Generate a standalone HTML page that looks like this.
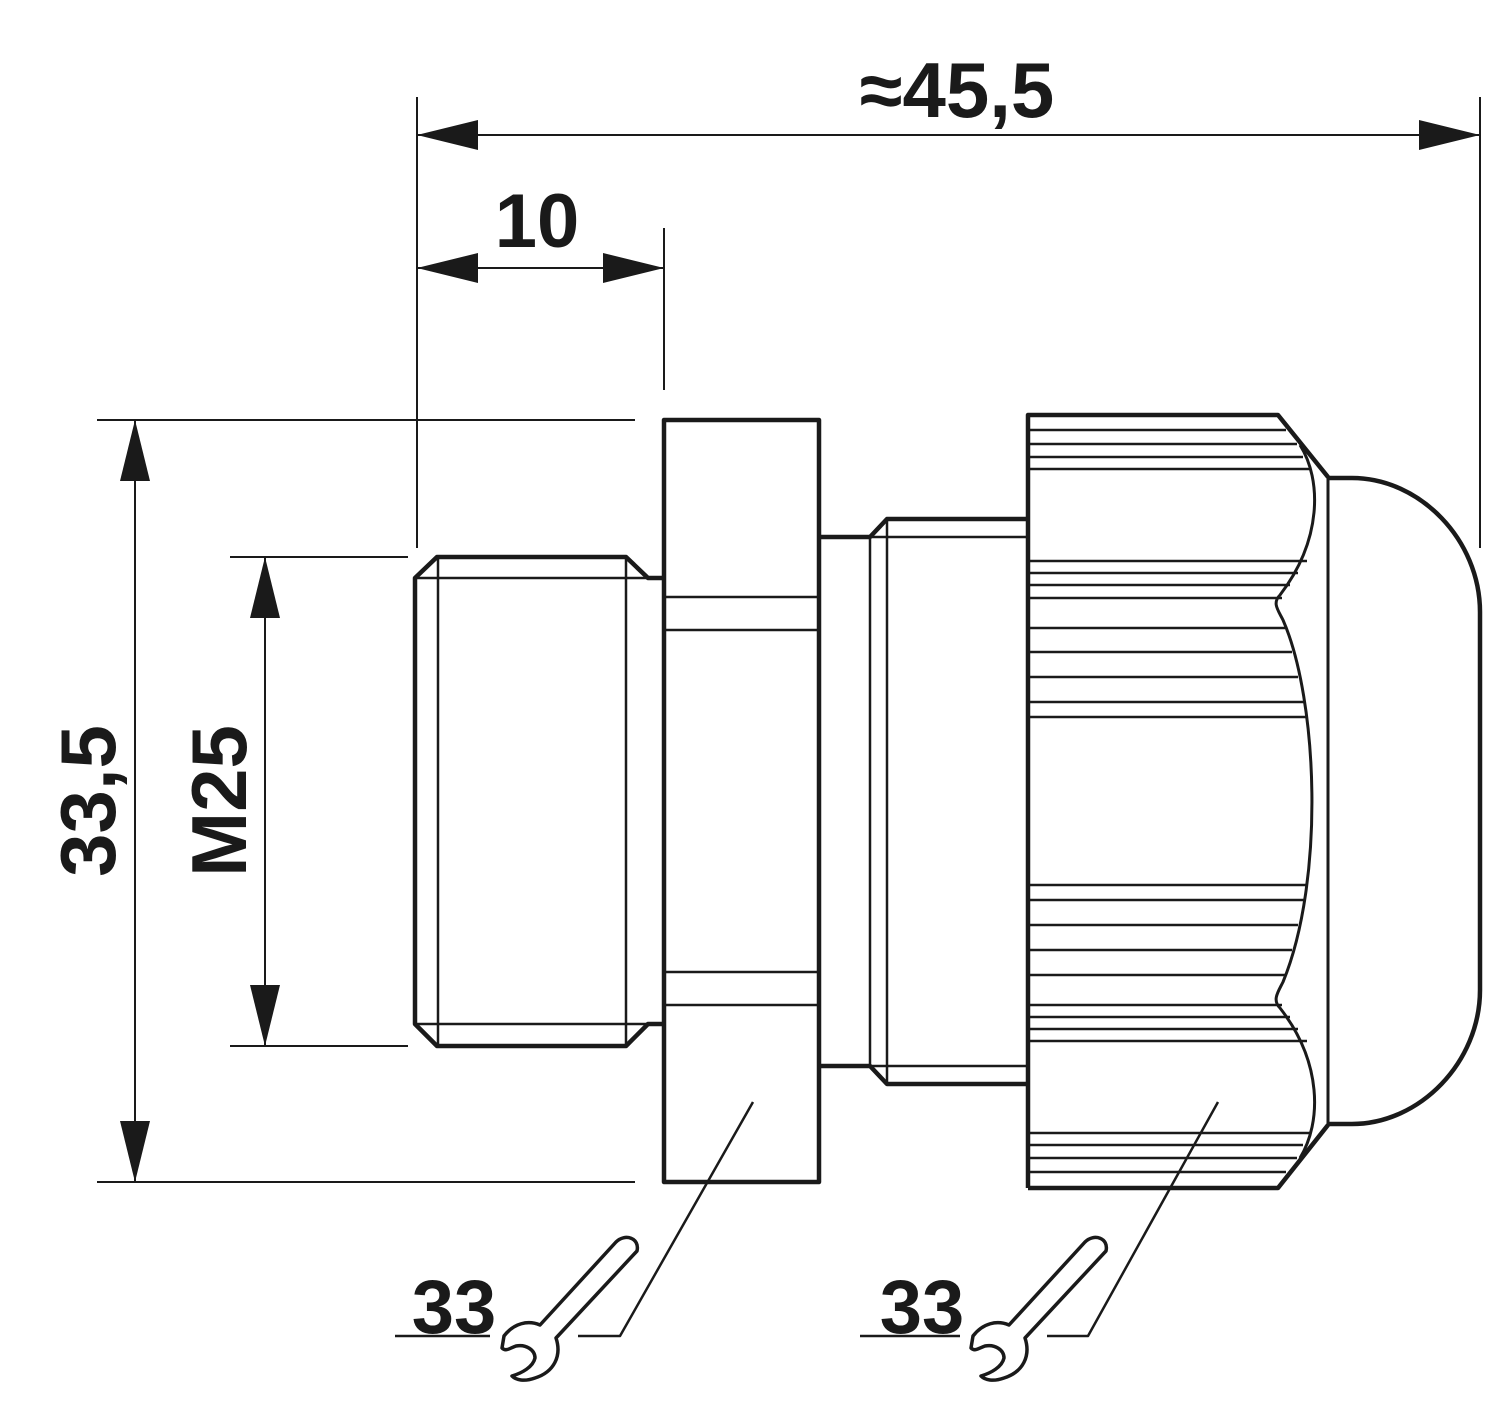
<!DOCTYPE html>
<html><head><style>body{margin:0;background:#fff}svg{display:block}text{font-family:"Liberation Sans",sans-serif;font-weight:bold;fill:#1a1a1a}</style></head>
<body>
<svg width="1500" height="1403" viewBox="0 0 1500 1403" xmlns="http://www.w3.org/2000/svg">
<defs>
<g id="wr">
<path d="M0,0 C10,-13 24,-16 36,-11 L112,-94 C121,-103 136,-98 133,-85 L52,2 C58,20 50,36 31,42 C20,46 12,44 8,40 C18,37 29,31 31,22 C31,14 22,8 12,10 C6,12 2,16 -2,12 Z" fill="none" stroke="#1a1a1a" stroke-width="3.5" stroke-linejoin="round"/>
</g>
</defs>
<g stroke="#1a1a1a" fill="none" stroke-width="2">
<line x1="417" y1="97" x2="417" y2="548"/>
<line x1="1480" y1="97" x2="1480" y2="548"/>
<line x1="664" y1="228" x2="664" y2="390"/>
<line x1="97" y1="420" x2="635" y2="420"/>
<line x1="97" y1="1182" x2="635" y2="1182"/>
<line x1="230" y1="557" x2="408" y2="557"/>
<line x1="230" y1="1046" x2="408" y2="1046"/>
<line x1="417" y1="135" x2="1480" y2="135"/>
<line x1="417" y1="268" x2="664" y2="268"/>
<line x1="135" y1="420" x2="135" y2="1182"/>
<line x1="265" y1="557" x2="265" y2="1046"/>
</g>
<g fill="#1a1a1a">
<polygon points="417,135 478,120 478,150"/>
<polygon points="1480,135 1419,120 1419,150"/>
<polygon points="417,268 478,253 478,283"/>
<polygon points="664,268 603,253 603,283"/>
<polygon points="135,420 120,481 150,481"/>
<polygon points="135,1182 120,1121 150,1121"/>
<polygon points="265,557 250,618 280,618"/>
<polygon points="265,1046 250,985 280,985"/>
</g>
<text x="957" y="117" font-size="78" text-anchor="middle">≈45,5</text>
<text x="537" y="247" font-size="76" text-anchor="middle">10</text>
<text transform="translate(115,801) rotate(-90)" font-size="78" text-anchor="middle">33,5</text>
<text transform="translate(246,801) rotate(-90)" font-size="78" text-anchor="middle">M25</text>

<g stroke="#1a1a1a" fill="none" stroke-linejoin="round">
<path d="M664,578 L648,578 L626,557 L437,557 L415,578 L415,1024 L437,1046 L626,1046 L648,1024 L664,1024" stroke-width="4.5"/>
<g stroke-width="2.5">
<line x1="415" y1="578" x2="648" y2="578"/><line x1="415" y1="1024" x2="648" y2="1024"/>
<line x1="438" y1="557" x2="438" y2="1046"/><line x1="626" y1="557" x2="626" y2="1046"/>
</g>
<rect x="664" y="420" width="155" height="762" stroke-width="4.5"/>
<g stroke-width="2.5">
<line x1="664" y1="597" x2="819" y2="597"/><line x1="664" y1="630" x2="819" y2="630"/>
<line x1="664" y1="972" x2="819" y2="972"/><line x1="664" y1="1005" x2="819" y2="1005"/>
</g>
<path d="M819,537 L870,537 L887,519 L1028,519 M819,1066 L870,1066 L887,1084 L1028,1084" stroke-width="4.5"/>
<g stroke-width="2.5">
<line x1="870" y1="537" x2="870" y2="1066"/><line x1="887" y1="519" x2="887" y2="1084"/>
<line x1="870" y1="537" x2="1028" y2="537"/><line x1="870" y1="1066" x2="1028" y2="1066"/>
</g>
<path d="M1028,1188 L1028,415 L1278,415 L1328,477 M1028,1188 L1278,1188 L1328,1125" stroke-width="4.5"/>
<path d="M1300,445 C1322,480 1322,540 1280,595 C1272,603 1278,610 1283,620 C1318,700 1325,880 1283,982 C1278,992 1272,1000 1280,1008 C1322,1062 1322,1122 1300,1158" stroke-width="3"/>
<line x1="1328" y1="477" x2="1328" y2="1125" stroke-width="3"/>
<path d="M1328,478 L1352,478 C1420,478 1480,540 1480,612 L1480,990 C1480,1062 1420,1124 1352,1124 L1328,1124" stroke-width="4.5"/>
<g stroke-width="2.5">
<line x1="1030" y1="430" x2="1286" y2="430"/><line x1="1030" y1="444" x2="1297" y2="444"/>
<line x1="1030" y1="457" x2="1303" y2="457"/><line x1="1030" y1="469" x2="1310" y2="469"/>
<line x1="1030" y1="561" x2="1307" y2="561"/><line x1="1030" y1="573" x2="1298" y2="573"/>
<line x1="1030" y1="585" x2="1290" y2="585"/><line x1="1030" y1="598" x2="1282" y2="598"/>
<line x1="1030" y1="628" x2="1285" y2="628"/><line x1="1030" y1="652" x2="1292" y2="652"/>
<line x1="1030" y1="677" x2="1298" y2="677"/><line x1="1030" y1="702" x2="1305" y2="702"/>
<line x1="1030" y1="717" x2="1307" y2="717"/>
<line x1="1030" y1="885" x2="1307" y2="885"/><line x1="1030" y1="900" x2="1305" y2="900"/>
<line x1="1030" y1="925" x2="1298" y2="925"/><line x1="1030" y1="950" x2="1292" y2="950"/>
<line x1="1030" y1="975" x2="1285" y2="975"/>
<line x1="1030" y1="1005" x2="1282" y2="1005"/><line x1="1030" y1="1017" x2="1290" y2="1017"/>
<line x1="1030" y1="1029" x2="1298" y2="1029"/><line x1="1030" y1="1041" x2="1307" y2="1041"/>
<line x1="1030" y1="1133" x2="1310" y2="1133"/><line x1="1030" y1="1145" x2="1303" y2="1145"/>
<line x1="1030" y1="1158" x2="1297" y2="1158"/><line x1="1030" y1="1172" x2="1286" y2="1172"/>
</g>
<path d="M753,1102 L620,1336 L578,1336 M395,1336 L490,1336" stroke-width="2.5"/>
<path d="M1218,1102 L1088,1336 L1047,1336 M860,1336 L960,1336" stroke-width="2.5"/>
</g>
<text x="454" y="1333" font-size="76" text-anchor="middle">33</text>
<text x="922" y="1333" font-size="76" text-anchor="middle">33</text>
<use href="#wr" transform="translate(504,1336)"/>
<use href="#wr" transform="translate(973,1336)"/>
</svg>
</body></html>
